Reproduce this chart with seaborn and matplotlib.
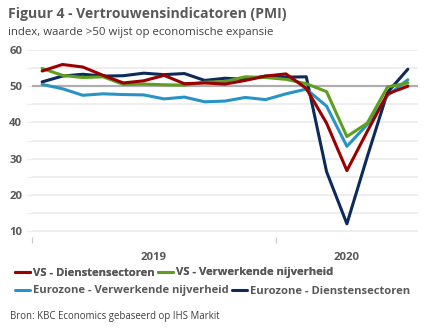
import matplotlib
matplotlib.use("Agg")
import matplotlib.pyplot as plt
import seaborn as sns
import pandas as pd
import numpy as np

# Monthly PMI readings, Jan 2019 - Jul 2020
months = pd.period_range("2019-01", "2020-07", freq="M").strftime("%Y-%m").tolist()
vs_diensten = [54.2, 56.0, 55.3, 53.0, 50.9, 51.5, 53.0, 50.7, 50.9, 50.6, 51.6, 52.8,
               53.4, 49.4, 39.8, 26.7, 37.5, 47.9, 50.0]
vs_verwerkend = [54.9, 53.0, 52.4, 52.6, 50.5, 50.6, 50.4, 50.3, 51.1, 51.3, 52.6, 52.4,
                 51.9, 50.7, 48.5, 36.1, 39.8, 49.8, 50.9]
ez_verwerkend = [50.5, 49.3, 47.5, 47.9, 47.7, 47.6, 46.5, 47.0, 45.7, 45.9, 46.9, 46.3,
                 47.9, 49.2, 44.5, 33.4, 39.4, 47.4, 51.8]
ez_diensten = [51.2, 52.8, 53.3, 52.8, 52.9, 53.6, 53.2, 53.5, 51.6, 52.2, 51.9, 52.8,
               52.5, 52.6, 26.4, 12.0, 30.5, 48.3, 54.7]

series_names = ["VS - Dienstensectoren", "VS - Verwerkende nijverheid",
                "Eurozone - Verwerkende nijverheid", "Eurozone - Dienstensectoren"]
series_values = [vs_diensten, vs_verwerkend, ez_verwerkend, ez_diensten]
colors = ["#990000", "#5F9E1E", "#2A93C6", "#0C2B5B"]
draw_order = [3, 2, 1, 0]  # services US drawn on top

year_labels = ["2019", "2020"]
y_ticks = [10, 15, 20, 25, 30, 35, 40, 45, 50, 55, 60]

df = pd.concat([
    pd.DataFrame({"maand": range(len(months)), "index": vals, "reeks": name})
    for name, vals in zip(series_names, series_values)
])

sns.set_theme(style="white")
plt.rcParams["font.family"] = ["Open Sans", "DejaVu Sans"]

TXT = "#595959"
GRID = "#EDEDED"

fig = plt.figure(figsize=(4.32, 3.34), dpi=100)
ax = fig.add_axes([32 / 432, 1 - 236.9 / 334, 386 / 432, (236.9 - 50) / 334])

for i in draw_order:
    sub = df[df["reeks"] == series_names[i]]
    sns.lineplot(data=sub, x="maand", y="index", color=colors[i], lw=2.2,
                 ax=ax, label=series_names[i], legend=False, zorder=3 + (3 - i))

ax.axhline(50, color="#AEAEAE", lw=1.6, zorder=2)

ax.set_xlim(-0.5, len(months) - 0.5)
ax.set_ylim(8.4, 60)
ax.set_yticks(y_ticks)
ax.set_yticklabels([str(v) if v % 10 == 0 else "" for v in y_ticks],
                   fontsize=8.2, fontweight="bold", color=TXT)
ax.yaxis.grid(True, color=GRID, lw=1.3)
ax.set_axisbelow(True)
ax.tick_params(axis="y", length=3.6, width=1.0, color=GRID, pad=3.5, left=True)
for t, v in zip(ax.yaxis.get_major_ticks(), y_ticks):
    if v == 50:
        t.tick1line.set_color("#AEAEAE")

ax.set_xticks([-0.5, 11.5])
ax.set_xticklabels(["", ""])
ax.tick_params(axis="x", which="major", length=4, width=0.8, color="#C8C8C8",
               bottom=True, pad=0)
ax.set_xticks([5.5, 15.0], minor=True)
ax.set_xticklabels(year_labels, minor=True, fontsize=8.2, fontweight="bold", color=TXT)
ax.tick_params(axis="x", which="minor", length=0, pad=11)
ax.set_xlabel("")
ax.set_ylabel("")
for s in ax.spines.values():
    s.set_visible(False)

fig.text(8 / 432, 1 - 14 / 334, "Figuur 4 - Vertrouwensindicatoren (PMI)",
         fontsize=10.1, fontweight="bold", color=TXT, va="center", ha="left")
fig.text(8 / 432, 1 - 33 / 334, "index, waarde >50 wijst op economische expansie",
         fontsize=8.2, color="#404040", va="center", ha="left")
fig.text(10 / 432, 1 - 316 / 334, "Bron: KBC Economics gebaseerd op IHS Markit",
         fontsize=6.9, color="#404040", va="center", ha="left")

handles = {h.get_label(): h for h in ax.get_lines() if h.get_label() in series_names}
leg_kw = dict(frameon=False, handlelength=1.3, handletextpad=0.3, columnspacing=0.3,
              borderaxespad=0, borderpad=0, prop={"size": 8.1, "weight": "bold"},
              labelcolor=TXT, loc="center left", ncol=2)
leg1 = fig.legend([handles[series_names[0]], handles[series_names[1]]],
                  series_names[:2], bbox_to_anchor=(15 / 432, 1 - 273 / 334), **leg_kw)
fig.add_artist(leg1)
leg2 = fig.legend([handles[series_names[2]], handles[series_names[3]]],
                  series_names[2:], bbox_to_anchor=(15 / 432, 1 - 291 / 334), **leg_kw)

fig.savefig("out.png", dpi=100)
